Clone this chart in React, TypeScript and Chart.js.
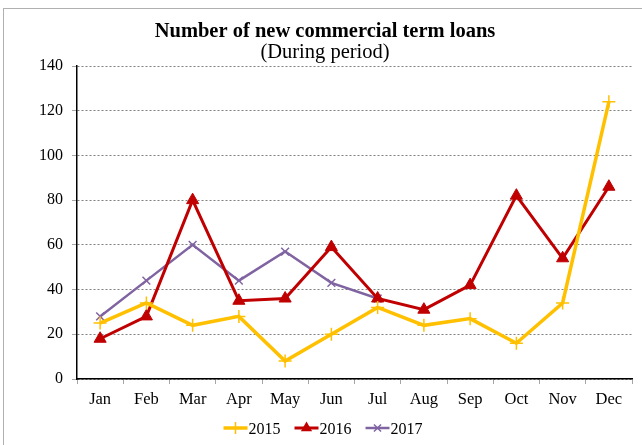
import React, { useEffect, useRef } from 'react';
import { Chart, registerables } from 'chart.js';

Chart.register(...registerables);

const FONT = '"Liberation Serif", "Times New Roman", Times, serif';

const titleText = 'Number of new commercial term loans';
const subtitleText = '(During period)';

const months = ['Jan', 'Feb', 'Mar', 'Apr', 'May', 'Jun', 'Jul', 'Aug', 'Sep', 'Oct', 'Nov', 'Dec'];
const loans2015 = [25, 34, 24, 28, 8, 20, 32, 24, 27, 16, 34, 124];
const loans2016 = [18, 28, 80, 35, 36, 59, 36, 31, 42, 82, 54, 86];
const loans2017 = [28, 44, 60, 44, 57, 43, 36, null, null, null, null, null];
const seriesLabels = ['2015', '2016', '2017'];
const yMin = 0;
const yMax = 140;
const yStep = 20;

function drawMarker(ctx: CanvasRenderingContext2D, style: string, x: number, y: number, r: number, color: string, lw: number) {
  ctx.save();
  ctx.strokeStyle = color;
  ctx.fillStyle = color;
  ctx.lineWidth = lw;
  ctx.beginPath();
  if (style === 'cross') {
    ctx.moveTo(x - r, y);
    ctx.lineTo(x + r, y);
    ctx.moveTo(x, y - r);
    ctx.lineTo(x, y + r);
    ctx.stroke();
  } else if (style === 'crossRot') {
    const d = r * Math.SQRT1_2;
    ctx.moveTo(x - d, y - d);
    ctx.lineTo(x + d, y + d);
    ctx.moveTo(x - d, y + d);
    ctx.lineTo(x + d, y - d);
    ctx.stroke();
  } else if (style === 'triangle') {
    ctx.moveTo(x, y - r);
    ctx.lineTo(x + r * Math.sin(Math.PI * 2 / 3), y + r / 2);
    ctx.lineTo(x - r * Math.sin(Math.PI * 2 / 3), y + r / 2);
    ctx.closePath();
    ctx.fill();
  }
  ctx.restore();
}

const overlayPlugin = {
  id: 'overlay',
  afterDraw(chart: any) {
    const ctx: CanvasRenderingContext2D = chart.ctx;
    ctx.save();
    ctx.fillStyle = '#000';
    ctx.textAlign = 'center';
    ctx.textBaseline = 'middle';
    ctx.font = `bold 20.5px ${FONT}`;
    ctx.fillText(titleText, 325, 31.5);
    ctx.font = `20.5px ${FONT}`;
    ctx.fillText(subtitleText, 325, 53);

    // legend
    ctx.font = `16px ${FONT}`;
    const lineW = 24;
    const gap = 1;
    const spacing = 14;
    const items = chart.data.datasets.map((ds: any) => ({
      ds,
      w: lineW + gap + ctx.measureText(ds.label).width,
    }));
    const total = items.reduce((s: number, it: any) => s + it.w, 0) + spacing * (items.length - 1);
    let x = 323 - total / 2;
    const y = 428;
    ctx.textAlign = 'left';
    for (const it of items) {
      const ds = it.ds;
      ctx.save();
      ctx.strokeStyle = ds.borderColor;
      ctx.lineWidth = ds.borderWidth;
      ctx.beginPath();
      ctx.moveTo(x, y);
      ctx.lineTo(x + lineW, y);
      ctx.stroke();
      ctx.restore();
      drawMarker(ctx, ds.pointStyle, x + lineW / 2, y, ds.pointRadius - 0.5, ds.borderColor, ds.pointBorderWidth);
      ctx.fillStyle = '#000';
      ctx.fillText(ds.label, x + lineW + gap, y + 1.5);
      x += it.w + spacing;
    }
    ctx.restore();
  },
};

export default function App() {
  const canvasRef = useRef<HTMLCanvasElement | null>(null);

  useEffect(() => {
    if (!canvasRef.current) return;
    const chart = new Chart(canvasRef.current, {
      type: 'line',
      data: {
        labels: months,
        datasets: [
          {
            label: seriesLabels[0],
            data: loans2015,
            borderColor: '#FFC000',
            backgroundColor: '#FFC000',
            borderWidth: 3.5,
            pointStyle: 'cross',
            pointRadius: 6.5,
            pointBorderWidth: 1.5,
            pointBorderColor: '#FFC000',
            tension: 0,
          },
          {
            label: seriesLabels[1],
            data: loans2016,
            borderColor: '#C00000',
            backgroundColor: '#C00000',
            borderWidth: 3,
            pointStyle: 'triangle',
            pointRadius: 7,
            pointBorderWidth: 1,
            pointBackgroundColor: '#C00000',
            pointBorderColor: '#C00000',
            tension: 0,
          },
          {
            label: seriesLabels[2],
            data: loans2017,
            borderColor: '#8064A2',
            backgroundColor: '#8064A2',
            borderWidth: 2.5,
            pointStyle: 'crossRot',
            pointRadius: 5.5,
            pointBorderWidth: 1.5,
            pointBorderColor: '#8064A2',
            tension: 0,
          },
        ] as any,
      },
      options: {
        responsive: false,
        animation: false,
        layout: { padding: { top: 66, right: 10, bottom: 0, left: 0 } },
        plugins: {
          legend: { display: false },
          title: { display: false },
          tooltip: { enabled: false },
        },
        scales: {
          x: {
            offset: true,
            grid: {
              offset: true,
              color: (c: any) => (c.index === months.length ? '#bfbfbf' : 'rgba(0,0,0,0)'),
              tickColor: '#a6a6a6',
              tickLength: 5,
            },
            border: { color: '#000', width: 1.5 },
            ticks: { color: '#000', font: { family: FONT, size: 16.5 }, padding: 6 },
            afterFit: (s: any) => {
              s.height = 66;
            },
          },
          y: {
            min: yMin,
            max: yMax,
            ticks: { stepSize: yStep, color: '#000', font: { family: FONT, size: 16 }, padding: 9 },
            grid: { color: '#808080', tickColor: '#a6a6a6', tickLength: 5, lineWidth: 1 },
            border: { color: '#000', width: 1.5, dash: [2, 2] },
            afterFit: (s: any) => {
              s.width = 77;
            },
          },
        },
      } as any,
      plugins: [overlayPlugin],
    });
    return () => chart.destroy();
  }, []);

  return (
    <div style={{ position: 'fixed', left: 0, top: 0, width: 642, height: 445, background: '#fff' }}>
      <div
        style={{
          position: 'absolute',
          left: 3,
          top: 8,
          width: 660,
          height: 460,
          border: '1.5px solid #b0b0b0',
          boxSizing: 'border-box',
        }}
      />
      <canvas
        ref={canvasRef}
        width={642}
        height={445}
        style={{ position: 'absolute', left: 0, top: 0, width: 642, height: 445 }}
      />
    </div>
  );
}
